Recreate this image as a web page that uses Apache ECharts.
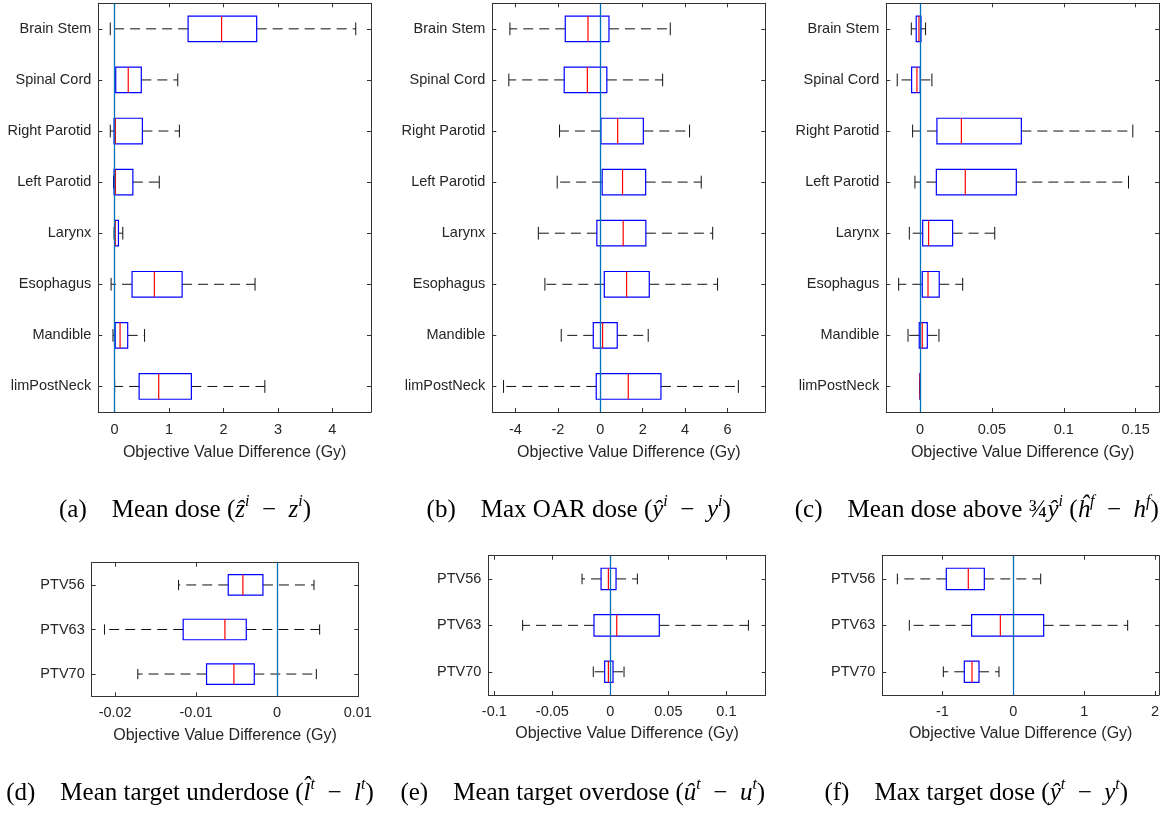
<!DOCTYPE html>
<html>
<head>
<meta charset="utf-8">
<script src="https://cdn.jsdelivr.net/npm/echarts@6/dist/echarts.min.js"></script>
<style>
  html, body { margin: 0; padding: 0; background: #ffffff; }
  #chart { width: 1173px; height: 813px; }
</style>
</head>
<body>
<div id="chart"></div>
<script>
// Structures and planning target volumes
const organs = ['Brain Stem', 'Spinal Cord', 'Right Parotid', 'Left Parotid', 'Larynx', 'Esophagus', 'Mandible', 'limPostNeck'];
const targets = ['PTV56', 'PTV63', 'PTV70'];

// Each row: [lower whisker, Q1, median, Q3, upper whisker] (Gy)
const meanDose = [
  [-0.08, 1.35, 1.965, 2.61, 4.43],
  [0.0, 0.02, 0.25, 0.49, 1.16],
  [-0.08, -0.01, 0.015, 0.51, 1.19],
  [-0.02, -0.01, 0.015, 0.335, 0.82],
  [-0.01, 0.005, 0.01, 0.07, 0.15],
  [-0.065, 0.32, 0.73, 1.24, 2.58],
  [-0.03, 0.01, 0.10, 0.24, 0.55],
  [0.0, 0.45, 0.81, 1.41, 2.76]
];
const maxOarDose = [
  [-4.26, -1.65, -0.58, 0.41, 3.30],
  [-4.31, -1.70, -0.61, 0.31, 2.94],
  [-1.92, 0.03, 0.82, 2.03, 4.21],
  [-2.03, 0.09, 1.05, 2.14, 4.76],
  [-2.92, -0.16, 1.08, 2.15, 5.30],
  [-2.61, 0.19, 1.24, 2.31, 5.53],
  [-1.84, -0.33, 0.11, 0.80, 2.26],
  [-4.56, -0.19, 1.32, 2.86, 6.51]
];
const meanDoseAbove = [
  [-0.0060, -0.0026, -0.0007, 0.0007, 0.0039],
  [-0.0158, -0.0058, -0.0021, 0.0002, 0.0083],
  [-0.0051, 0.0118, 0.0288, 0.0705, 0.1480],
  [-0.0035, 0.0114, 0.0315, 0.0670, 0.1450],
  [-0.0074, 0.0019, 0.0060, 0.0227, 0.0520],
  [-0.0148, 0.0016, 0.0056, 0.0134, 0.0297],
  [-0.0083, -0.0005, 0.0016, 0.0051, 0.0132],
  [-0.0002, -0.0001, 0.0, 0.0001, 0.0002]
];
const targetUnderdose = [
  [-0.01216, -0.00602, -0.00421, -0.00173, 0.00458],
  [-0.02132, -0.01159, -0.00643, -0.00379, 0.00528],
  [-0.0172, -0.0087, -0.00532, -0.0028, 0.00487]
];
const targetOverdose = [
  [-0.0244, -0.0080, -0.0017, 0.0049, 0.0233],
  [-0.0756, -0.0141, 0.0055, 0.0422, 0.1190],
  [-0.0147, -0.0049, -0.0017, 0.0023, 0.0118]
];
const maxTargetDose = [
  [-1.636, -0.945, -0.635, -0.409, 0.386],
  [-1.467, -0.588, -0.183, 0.428, 1.613],
  [-0.987, -0.691, -0.583, -0.484, -0.202]
];

// Tick labels of each x axis
const ticksA = [0, 1, 2, 3, 4];
const ticksB = [-4, -2, 0, 2, 4, 6];
const ticksC = [0, 0.05, 0.1, 0.15];
const ticksD = [-0.02, -0.01, 0, 0.01];
const ticksE = [-0.1, -0.05, 0, 0.05, 0.1];
const ticksF = [-1, 0, 1, 2];

const xTitle = 'Objective Value Difference (Gy)';

const panels = [
  { cats: organs,  rows: meanDose,        ticks: ticksA, min: -0.30,   max: 4.71,    rect: [98.3, 3.3, 272.7, 408.7],   box: 0.5,  labelGap: 10, nameGap: 33 },
  { cats: organs,  rows: maxOarDose,      ticks: ticksB, min: -5.09,   max: 7.78,    rect: [492.3, 3.3, 273, 408.7],    box: 0.5,  labelGap: 10, nameGap: 33 },
  { cats: organs,  rows: meanDoseAbove,   ticks: ticksC, min: -0.0234, max: 0.1662,  rect: [886.3, 3.3, 272.7, 408.7],  box: 0.5,  labelGap: 10, nameGap: 33 },
  { cats: targets, rows: targetUnderdose, ticks: ticksD, min: -0.0229, max: 0.01006, rect: [91.7, 562.7, 266.6, 133.6], box: 0.46, labelGap: 9,  nameGap: 31 },
  { cats: targets, rows: targetOverdose,  ticks: ticksE, min: -0.1052, max: 0.1339,  rect: [488.3, 555.7, 277.4, 139.3], box: 0.46, labelGap: 9,  nameGap: 31 },
  { cats: targets, rows: maxTargetDose,   ticks: ticksF, min: -1.848,  max: 2.055,   rect: [882.3, 555.7, 276.7, 139.3], box: 0.46, labelGap: 9,  nameGap: 31 }
];

// Sub-figure captions; {m|..} is a math symbol, {s|..} a superscript
const GAP = '\u2003';
const MINUS = '\u2002−\u2002';
const captions = [
  { x: 185,   y: 510, text: '(a)' + GAP + 'Mean dose ({m|ẑ}{s|i}' + MINUS + '{m|z}{s|i})' },
  { x: 578.7, y: 510, text: '(b)' + GAP + 'Max OAR dose ({m|ŷ}{s|i}' + MINUS + '{m|y}{s|i})' },
  { x: 976.8, y: 510, text: '(c)' + GAP + 'Mean dose above {q|¾}{m|ŷ}{s|i} ({m|ĥ}{s|f}' + MINUS + '{m|h}{s|f})' },
  { x: 190,   y: 793, text: '(d)' + GAP + 'Mean target underdose ({m|l\u0302}{s|t}' + MINUS + '{m|l}{s|t})' },
  { x: 582.8, y: 793, text: '(e)' + GAP + 'Mean target overdose ({m|û}{s|t}' + MINUS + '{m|u}{s|t})' },
  { x: 976.3, y: 793, text: '(f)' + GAP + 'Max target dose ({m|ŷ}{s|t}' + MINUS + '{m|y}{s|t})' }
];

const AXIS = '#333333';
const TEXT = '#262626';
const SANS = '"Liberation Sans", Arial, Helvetica, sans-serif';
const SERIF = '"Liberation Serif", "Times New Roman", serif';
const CAP = 25;

function fmt(v) { return String(parseFloat(Number(v).toPrecision(10))); }

function makeRender(frac) {
  return function (params, api) {
    const c = api.value(0);
    const xs = [1, 2, 3, 4, 5].map(function (d) { return api.coord([api.value(d), c])[0]; });
    const y = api.coord([api.value(3), c])[1];
    const band = api.size([0, 1])[1];
    const h = band * frac;
    const cap = h / 4;
    const dash = { stroke: '#111111', lineWidth: 1, lineDash: [10, 6], fill: null };
    const solid = { stroke: '#111111', lineWidth: 1, fill: null };
    return {
      type: 'group',
      children: [
        { type: 'line', shape: { x1: xs[1], y1: y, x2: xs[0], y2: y }, style: dash },
        { type: 'line', shape: { x1: xs[3], y1: y, x2: xs[4], y2: y }, style: dash },
        { type: 'line', shape: { x1: xs[0], y1: y - cap, x2: xs[0], y2: y + cap }, style: solid },
        { type: 'line', shape: { x1: xs[4], y1: y - cap, x2: xs[4], y2: y + cap }, style: solid },
        { type: 'rect', shape: { x: xs[1], y: y - h / 2, width: xs[3] - xs[1], height: h },
          style: { fill: null, stroke: '#0000ff', lineWidth: 1.2 } },
        { type: 'line', shape: { x1: xs[2], y1: y - h / 2, x2: xs[2], y2: y + h / 2 },
          style: { stroke: '#ff0000', lineWidth: 1.2 } }
      ]
    };
  };
}

const grid = [], xAxis = [], yAxis = [], series = [];
panels.forEach(function (p, i) {
  grid.push({ left: p.rect[0], top: p.rect[1], width: p.rect[2], height: p.rect[3],
              containLabel: false, outerBoundsMode: 'none' });
  const line = { show: true, onZero: false, lineStyle: { color: AXIS, width: 1 } };
  xAxis.push({
    type: 'value', gridIndex: i, position: 'bottom', min: p.min, max: p.max,
    axisLine: line,
    axisTick: { show: true, inside: true, length: 4, customValues: p.ticks, lineStyle: { color: AXIS } },
    axisLabel: { show: true, customValues: p.ticks, margin: p.labelGap, fontSize: 14.5, color: TEXT,
                 fontFamily: SANS, formatter: fmt },
    splitLine: { show: false },
    name: xTitle, nameLocation: 'middle', nameGap: p.nameGap,
    nameTextStyle: { fontSize: 16, color: TEXT, fontFamily: SANS }
  });
  xAxis.push({
    type: 'value', gridIndex: i, position: 'top', min: p.min, max: p.max,
    axisLine: line,
    axisTick: { show: true, inside: true, length: 4, customValues: p.ticks, lineStyle: { color: AXIS } },
    axisLabel: { show: false },
    splitLine: { show: false }
  });
  yAxis.push({
    type: 'category', gridIndex: i, position: 'left', data: p.cats, inverse: true,
    axisLine: line,
    axisTick: { show: true, inside: true, length: 4, alignWithLabel: true, interval: 0, lineStyle: { color: AXIS } },
    axisLabel: { show: true, interval: 0, margin: 7, fontSize: 14.5, color: TEXT, fontFamily: SANS },
    splitLine: { show: false }
  });
  yAxis.push({
    type: 'category', gridIndex: i, position: 'right', data: p.cats, inverse: true,
    axisLine: line,
    axisTick: { show: true, inside: true, length: 4, alignWithLabel: true, interval: 0, lineStyle: { color: AXIS } },
    axisLabel: { show: false },
    splitLine: { show: false }
  });
  series.push({
    type: 'custom', coordinateSystem: 'cartesian2d',
    xAxisIndex: 2 * i, yAxisIndex: 2 * i,
    data: p.rows.map(function (r, k) { return [k].concat(r); }),
    encode: { x: [1, 2, 3, 4, 5], y: 0 },
    renderItem: makeRender(p.box),
    clip: false, silent: true, animation: false,
    markLine: {
      silent: true, symbol: ['none', 'none'], animation: false,
      label: { show: false },
      lineStyle: { color: '#0072BD', width: 1.3, type: 'solid' },
      data: [{ xAxis: 0 }]
    }
  });
});

const graphic = captions.map(function (c) {
  return {
    type: 'text', x: c.x, y: c.y, silent: true,
    style: {
      text: c.text, x: 0, y: 0, align: 'center', verticalAlign: 'middle',
      fontFamily: SERIF, fontSize: CAP, fill: '#000000', lineHeight: 32,
      rich: {
        m: { fontFamily: SERIF, fontSize: CAP, fontStyle: 'italic', fill: '#000000', lineHeight: 32 },
        q: { fontFamily: SERIF, fontSize: CAP, fill: '#000000', lineHeight: 32 },
        s: { fontFamily: SERIF, fontSize: 16, fontStyle: 'italic', fill: '#000000', verticalAlign: 'top', lineHeight: 24 }
      }
    }
  };
});

const chart = echarts.init(document.getElementById('chart'), null, { renderer: 'canvas' });
chart.setOption({
  animation: false,
  backgroundColor: '#ffffff',
  grid: grid, xAxis: xAxis, yAxis: yAxis, series: series, graphic: graphic
});
</script>
</body>
</html>
